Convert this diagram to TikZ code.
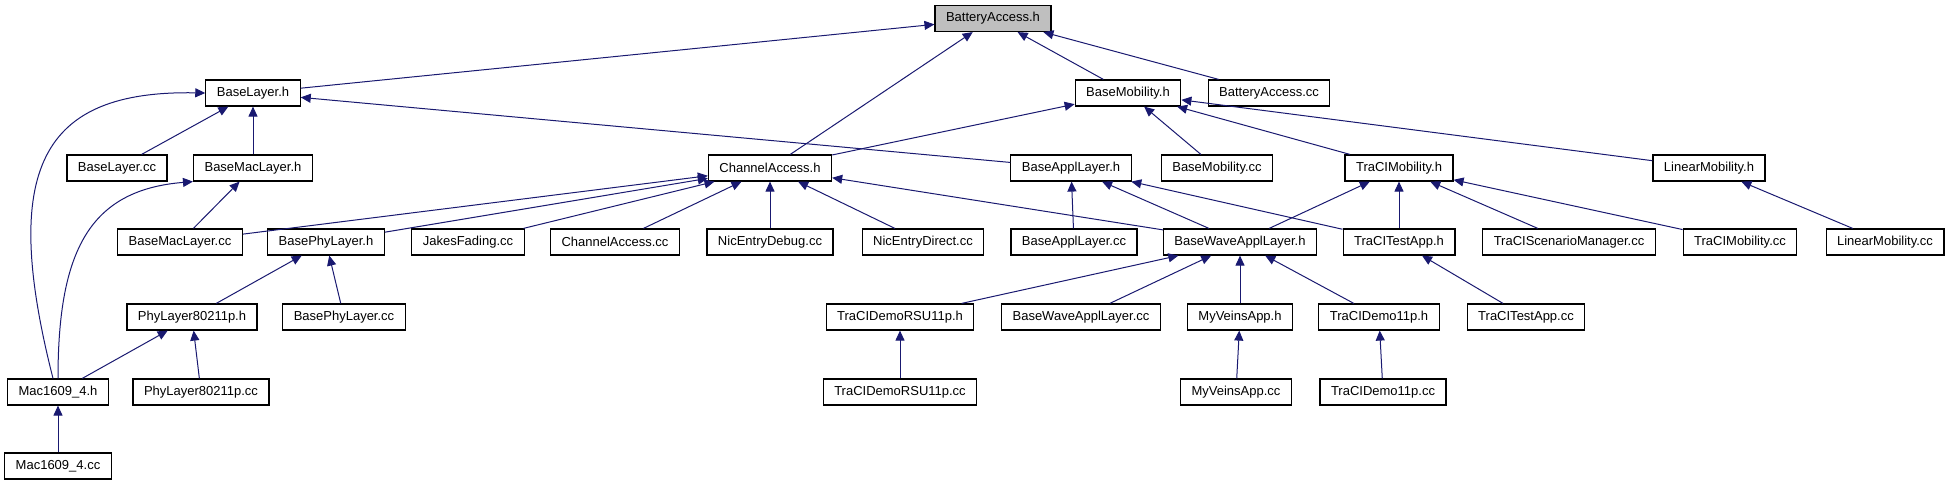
\documentclass[tikz,border=0pt]{standalone}
\usepackage{fontspec}
\setmainfont{Liberation Sans}
\usetikzlibrary{arrows.meta}
\definecolor{edgeblue}{HTML}{191970}

\begin{document}
\begin{tikzpicture}[x=0.5pt,y=-0.5pt,
    box/.style={draw,line width=0.6pt,fill=white,inner xsep=5.5pt,minimum height=13pt,font=\fontsize{6.5}{7.8}\selectfont},
    arr/.style={-{Triangle[length=5pt,width=4.5pt]},edgeblue,line width=0.5pt}
  ]
    \useasboundingbox (0,0) rectangle (1948,485);
    \node[box,fill=black!25] (ba) at (993,18.5) {BatteryAccess.h};
    \foreach \n/\x/\t in {bl/253/BaseLayer.h,bmob/1128/BaseMobility.h,bacc/1269/BatteryAccess.cc}{
      \node[box] (\n) at (\x,93) {\t};
    }
    \foreach \n/\x/\t in {blcc/117/BaseLayer.cc,bmac/253/BaseMacLayer.h,ch/770/ChannelAccess.h,
        bapp/1071/BaseApplLayer.h,bmobcc/1217/BaseMobility.cc,tmob/1399/TraCIMobility.h,lmob/1709/LinearMobility.h}{
      \node[box] (\n) at (\x,168) {\t};
    }
    \foreach \n/\x/\t in {bmaccc/180/BaseMacLayer.cc,bphy/326/BasePhyLayer.h,jakes/468/JakesFading.cc,
        chcc/615/ChannelAccess.cc,nicdbg/770/NicEntryDebug.cc,nicdir/923/NicEntryDirect.cc,
        bappcc/1074/BaseApplLayer.cc,bwave/1240/BaseWaveApplLayer.h,ttest/1399/TraCITestApp.h,
        tscen/1569/TraCIScenarioManager.cc,tmobcc/1740/TraCIMobility.cc,lmobcc/1885/LinearMobility.cc}{
      \node[box] (\n) at (\x,242) {\t};
    }
    \foreach \n/\x/\t in {phy/192/PhyLayer80211p.h,bphycc/344/BasePhyLayer.cc,rsu/900/TraCIDemoRSU11p.h,
        bwavecc/1081/BaseWaveApplLayer.cc,veins/1240/MyVeinsApp.h,demo/1379/TraCIDemo11p.h,ttestcc/1526/TraCITestApp.cc}{
      \node[box] (\n) at (\x,317) {\t};
    }
    \foreach \n/\x/\t in {mac/58/Mac1609\_4.h,phycc/201/PhyLayer80211p.cc,rsucc/900/TraCIDemoRSU11p.cc,
        veinscc/1236/MyVeinsApp.cc,democc/1383/TraCIDemo11p.cc}{
      \node[box] (\n) at (\x,392) {\t};
    }
    \node[box] (maccc) at (58,466) {Mac1609\_4.cc};
    % includes: child -> parent
    \foreach \a/\b in {bl/ba,ch/ba,bmob/ba,bacc/ba,blcc/bl,bmac/bl,bapp/bl,
        ch/bmob,bmobcc/bmob,tmob/bmob,lmob/bmob,bmaccc/bmac,
        bmaccc/ch,bphy/ch,jakes/ch,chcc/ch,nicdbg/ch,nicdir/ch,bwave/ch,
        bappcc/bapp,bwave/bapp,ttest/bapp,bwave/tmob,ttest/tmob,tscen/tmob,tmobcc/tmob,
        lmobcc/lmob,phy/bphy,bphycc/bphy,rsu/bwave,bwavecc/bwave,veins/bwave,demo/bwave,
        ttestcc/ttest,mac/phy,phycc/phy,rsucc/rsu,veinscc/veins,democc/demo,maccc/mac}{
      \draw[arr] (\a) -- (\b);
    }
    \draw[arr] ([xshift=-2.5pt]mac.north) .. controls (0,170) and (40,90) .. (bl.west);
    \draw[arr] (mac.north) .. controls (58,250) and (90,190) .. (bmac.south west);
  \end{tikzpicture}
\end{document}
